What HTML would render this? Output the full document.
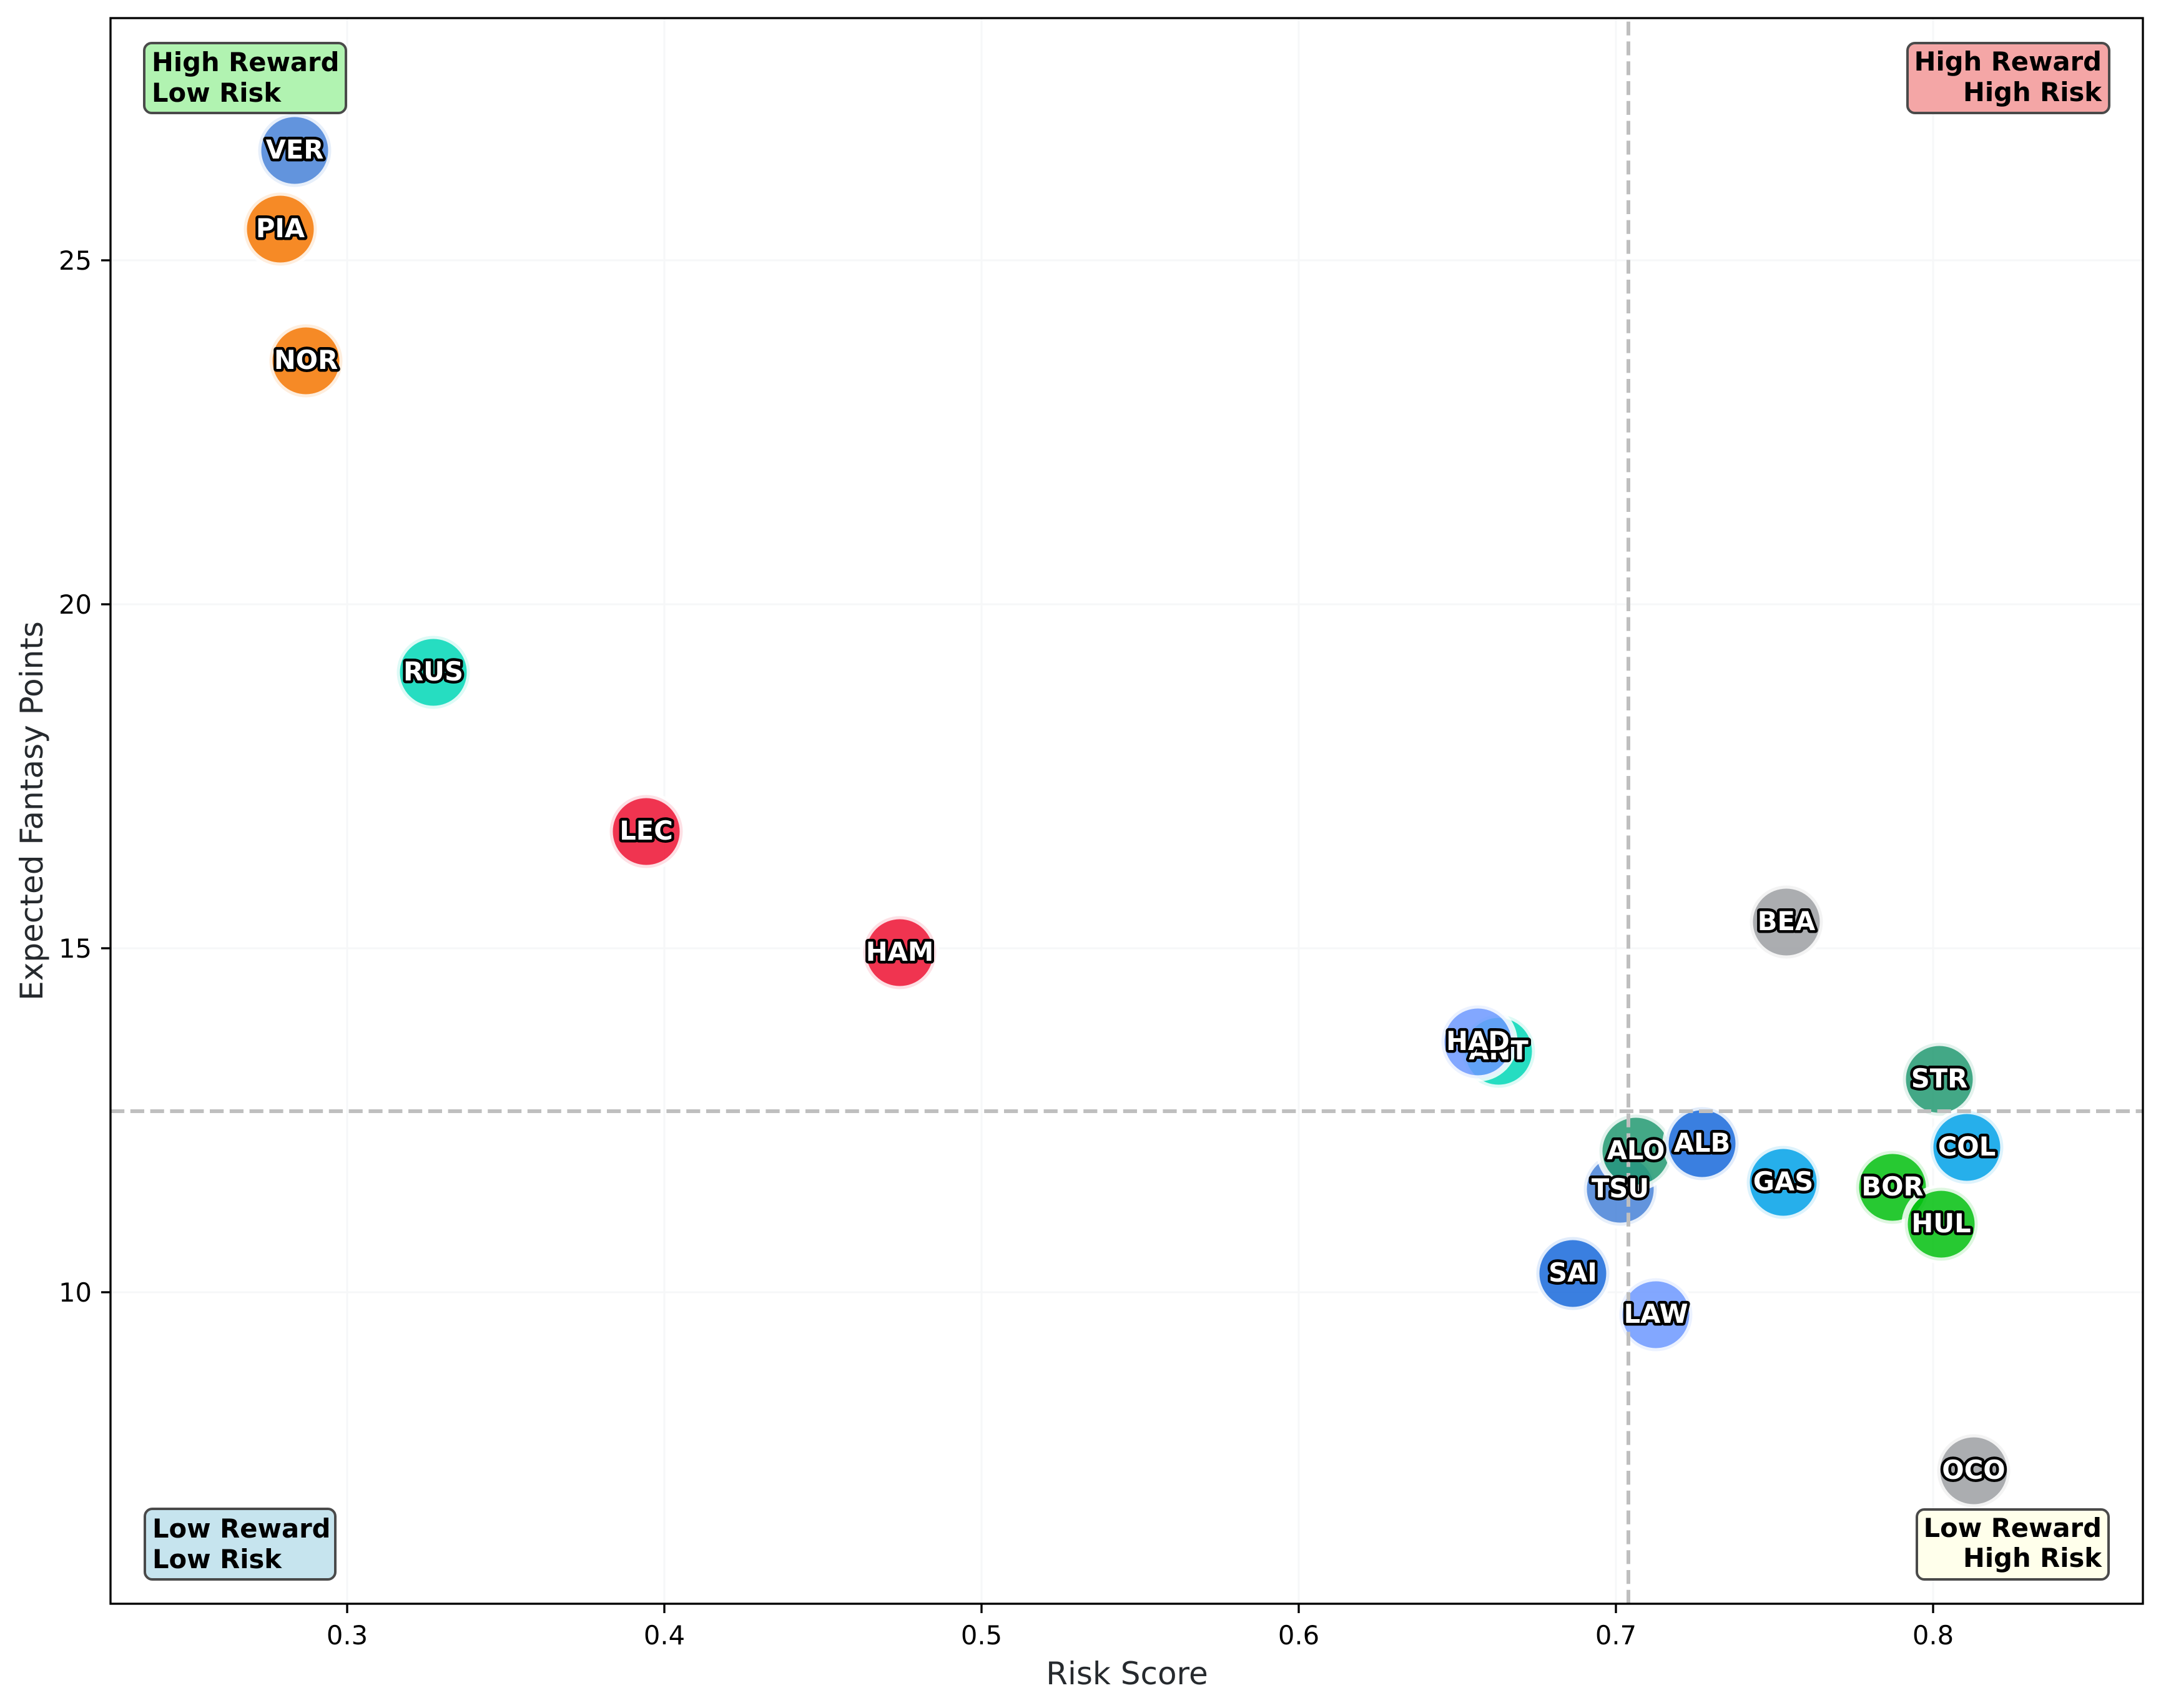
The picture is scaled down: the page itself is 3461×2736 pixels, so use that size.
<!DOCTYPE html>
<html>
<head>
<meta charset="utf-8">
<style>
html,body{margin:0;padding:0;background:#ffffff;}
svg{display:block;}
.lbl{font-family:"DejaVu Sans","Liberation Sans",sans-serif;font-weight:bold;font-size:41.67px;fill:#ffffff;stroke:#000000;stroke-width:9;stroke-linejoin:round;paint-order:stroke;text-anchor:middle;}
.tick{font-family:"DejaVu Sans","Liberation Sans",sans-serif;font-size:41.67px;fill:#000000;}
.box{font-family:"DejaVu Sans","Liberation Sans",sans-serif;font-weight:bold;font-size:41.67px;fill:#000000;}
.axl{font-family:"DejaVu Sans","Liberation Sans",sans-serif;font-size:50px;fill:#262a2e;text-anchor:middle;}
</style>
</head>
<body>
<svg width="3461" height="2736" viewBox="0 0 3461 2736" xmlns="http://www.w3.org/2000/svg">
<rect x="0" y="0" width="3461" height="2736" fill="#ffffff"/>

<!-- grid -->
<g stroke="#f6f7f8" stroke-width="3">
<line x1="556" y1="29" x2="556" y2="2569"/>
<line x1="1064" y1="29" x2="1064" y2="2569"/>
<line x1="1572" y1="29" x2="1572" y2="2569"/>
<line x1="2080" y1="29" x2="2080" y2="2569"/>
<line x1="2588" y1="29" x2="2588" y2="2569"/>
<line x1="3096" y1="29" x2="3096" y2="2569"/>
<line x1="177" y1="2070" x2="3432" y2="2070"/>
<line x1="177" y1="1519" x2="3432" y2="1519"/>
<line x1="177" y1="968" x2="3432" y2="968"/>
<line x1="177" y1="417" x2="3432" y2="417"/>
</g>

<!-- scatter -->
<g fill-opacity="0.85" stroke="#ffffff" stroke-opacity="0.85" stroke-width="10">
<circle cx="472" cy="241" r="58.5" fill="#4781D7"/>
<circle cx="449" cy="367" r="58.5" fill="#F47600"/>
<circle cx="490" cy="578" r="58.5" fill="#F47600"/>
<circle cx="694" cy="1077" r="58.5" fill="#00D7B6"/>
<circle cx="1035" cy="1332" r="58.5" fill="#ED1131"/>
<circle cx="1441" cy="1526" r="58.5" fill="#ED1131"/>
<circle cx="2400" cy="1684" r="58.5" fill="#00D7B6"/>
<circle cx="2367" cy="1669" r="58.5" fill="#6C98FF"/>
<circle cx="2861" cy="1477" r="58.5" fill="#9C9FA2"/>
<circle cx="3106" cy="1729" r="58.5" fill="#229971"/>
<circle cx="2595" cy="1905" r="58.5" fill="#4781D7"/>
<circle cx="2620" cy="1844" r="58.5" fill="#229971"/>
<circle cx="2726" cy="1832" r="58.5" fill="#1868DB"/>
<circle cx="2856" cy="1894" r="58.5" fill="#00A1E8"/>
<circle cx="3150" cy="1838" r="58.5" fill="#00A1E8"/>
<circle cx="3031" cy="1902" r="58.5" fill="#01C00E"/>
<circle cx="3109" cy="1961" r="58.5" fill="#01C00E"/>
<circle cx="2519" cy="2040" r="58.5" fill="#1868DB"/>
<circle cx="2652" cy="2106" r="58.5" fill="#6C98FF"/>
<circle cx="3161" cy="2356" r="58.5" fill="#9C9FA2"/>
</g>

<!-- dashed reference lines -->
<g stroke="#bfbfbf" stroke-width="6" stroke-dasharray="22.2 9.6" fill="none">
<path d="M2608 2569 V29"/>
<path d="M177 1780 H3432"/>
</g>

<!-- labels -->
<text class="lbl" x="472" y="254">VER</text>
<text class="lbl" x="449" y="380">PIA</text>
<text class="lbl" x="490" y="591">NOR</text>
<text class="lbl" x="694" y="1090">RUS</text>
<text class="lbl" x="1035" y="1345">LEC</text>
<text class="lbl" x="1441" y="1539">HAM</text>
<text class="lbl" x="2400" y="1697">ANT</text>
<text class="lbl" x="2367" y="1682">HAD</text>
<text class="lbl" x="2861" y="1490">BEA</text>
<text class="lbl" x="3106" y="1742">STR</text>
<text class="lbl" x="2595" y="1918">TSU</text>
<text class="lbl" x="2620" y="1857">ALO</text>
<text class="lbl" x="2726" y="1845">ALB</text>
<text class="lbl" x="2856" y="1907">GAS</text>
<text class="lbl" x="3150" y="1851">COL</text>
<text class="lbl" x="3031" y="1915">BOR</text>
<text class="lbl" x="3109" y="1974">HUL</text>
<text class="lbl" x="2519" y="2053">SAI</text>
<text class="lbl" x="2652" y="2119">LAW</text>
<text class="lbl" x="3161" y="2369">OCO</text>

<!-- quadrant boxes -->
<rect x="231" y="69" width="323" height="112" rx="12" ry="12" fill="#b1f3b1" stroke="#4a4a4a" stroke-width="4"/>
<text class="box" x="243" y="114">High Reward</text>
<text class="box" x="243" y="163">Low Risk</text>

<rect x="3055" y="69" width="323" height="112" rx="12" ry="12" fill="#f4a6a6" stroke="#4a4a4a" stroke-width="4"/>
<text class="box" x="3366" y="113" text-anchor="end">High Reward</text>
<text class="box" x="3366" y="162" text-anchor="end">High Risk</text>

<rect x="232" y="2417" width="305" height="113" rx="12" ry="12" fill="#c6e4ee" stroke="#4a4a4a" stroke-width="4"/>
<text class="box" x="244" y="2463">Low Reward</text>
<text class="box" x="244" y="2512">Low Risk</text>

<rect x="3070" y="2418" width="307" height="112" rx="12" ry="12" fill="#ffffeb" stroke="#4a4a4a" stroke-width="4"/>
<text class="box" x="3366" y="2462" text-anchor="end">Low Reward</text>
<text class="box" x="3366" y="2510" text-anchor="end">High Risk</text>

<!-- spines -->
<rect x="177" y="29" width="3255" height="2540" fill="none" stroke="#000000" stroke-width="3.33"/>

<!-- ticks -->
<g stroke="#000000" stroke-width="3.33">
<line x1="556" y1="2569" x2="556" y2="2584"/>
<line x1="1064" y1="2569" x2="1064" y2="2584"/>
<line x1="1572" y1="2569" x2="1572" y2="2584"/>
<line x1="2080" y1="2569" x2="2080" y2="2584"/>
<line x1="2588" y1="2569" x2="2588" y2="2584"/>
<line x1="3096" y1="2569" x2="3096" y2="2584"/>
<line x1="162" y1="2070" x2="177" y2="2070"/>
<line x1="162" y1="1519" x2="177" y2="1519"/>
<line x1="162" y1="968" x2="177" y2="968"/>
<line x1="162" y1="417" x2="177" y2="417"/>
</g>

<!-- tick labels -->
<text class="tick" x="556" y="2634" text-anchor="middle">0.3</text>
<text class="tick" x="1064" y="2634" text-anchor="middle">0.4</text>
<text class="tick" x="1572" y="2634" text-anchor="middle">0.5</text>
<text class="tick" x="2080" y="2634" text-anchor="middle">0.6</text>
<text class="tick" x="2588" y="2634" text-anchor="middle">0.7</text>
<text class="tick" x="3096" y="2634" text-anchor="middle">0.8</text>
<text class="tick" x="147" y="2085" text-anchor="end">10</text>
<text class="tick" x="147" y="1534" text-anchor="end">15</text>
<text class="tick" x="147" y="983" text-anchor="end">20</text>
<text class="tick" x="147" y="432" text-anchor="end">25</text>

<!-- axis labels -->
<text class="axl" x="1805" y="2698">Risk Score</text>
<text class="axl" transform="translate(68,1299) rotate(-90)" x="0" y="0">Expected Fantasy Points</text>
</svg>
</body>
</html>
